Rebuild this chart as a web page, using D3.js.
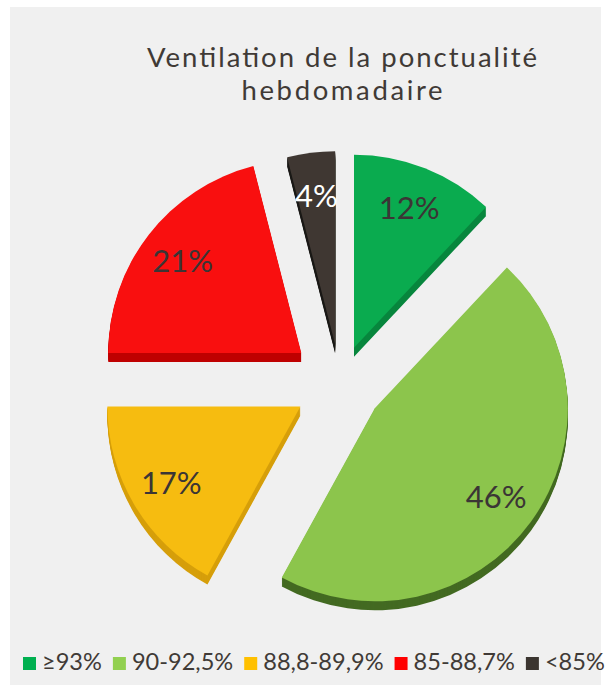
<!DOCTYPE html>
<html>
<head>
<meta charset="utf-8">
<script src="https://cdn.jsdelivr.net/npm/d3@7"></script>
<style>
  html, body { margin: 0; padding: 0; background: #ffffff; }
  svg { display: block; }
  text { font-family: Lato, "Noto Sans", sans-serif; }
</style>
</head>
<body>
<div id="chart"></div>
<script>
// ---- data ----
const titleLines = ["Ventilation de la ponctualité", "hebdomadaire"];
const categories = ["≥93%", "90-92,5%", "88,8-89,9%", "85-88,7%", "<85%"];
const values = [12, 46, 17, 21, 4];
const valueLabels = ["12%", "46%", "17%", "21%", "4%"];

// ---- styles ----
const faceColors = ["#0aab4f", "#8cc54c", "#f6bc10", "#f90f0f", "#3f3732"];
const sideColors = ["#07863d", "#436a22", "#d69f0b", "#bf0000", "#1b1917"];
const legendColors = ["#00b050", "#92d050", "#ffc000", "#ff0000", "#3b3530"];
const labelColors = ["#3b3535", "#3b3535", "#3b3535", "#3b3535", "#ffffff"];
const explodeDist = [38, 43, 46, 49, 39]; // per-slice explosion (layout)
const textColor = "#403a36";

const W = 607, H = 685;
const svg = d3.select("#chart").append("svg").attr("width", W).attr("height", H);

svg.append("rect").attr("x", 0).attr("y", 0).attr("width", W).attr("height", H).attr("fill", "#ffffff");
svg.append("rect").attr("x", 10).attr("y", 7).attr("width", 591).attr("height", H - 7).attr("fill", "#f0f0f0");

// ---- title ----
const titleG = svg.append("g");
const titleWidths = [390, 201];
titleLines.forEach((line, i) => {
  titleG.append("text")
    .attr("x", 342 - titleWidths[i] / 2)
    .attr("y", 67 + i * 33)
    .attr("font-size", 27.5)
    .attr("fill", textColor)
    .attr("textLength", titleWidths[i])
    .attr("lengthAdjust", "spacing")
    .text(line);
});

// ---- pie ----
const cx = 340, cy = 383, R = 193, depth = 9, labelR = 150;
const data = categories.map((c, i) => ({ cat: c, value: values[i], i }));
const pie = d3.pie().sort(null).value(d => d.value).startAngle(0).endAngle(2 * Math.PI);
const arc = d3.arc().innerRadius(0).outerRadius(R);
const labelArc = d3.arc().innerRadius(labelR).outerRadius(labelR);

const arcs = pie(data);
const sliceG = svg.append("g");
arcs.forEach(a => {
  const mid = (a.startAngle + a.endAngle) / 2;
  const d = explodeDist[a.data.i];
  const ox = Math.sin(mid) * d, oy = -Math.cos(mid) * d;
  const g = sliceG.append("g").attr("transform", `translate(${cx + ox},${cy + oy})`);
  for (let k = depth; k >= 1; k--) {
    g.append("path").attr("d", arc(a)).attr("transform", `translate(0,${k})`)
      .attr("fill", sideColors[a.data.i]);
  }
  g.append("path").attr("d", arc(a)).attr("fill", faceColors[a.data.i]);
  const [lx, ly] = labelArc.centroid(a);
  g.append("text")
    .attr("x", lx).attr("y", ly)
    .attr("dy", "0.36em")
    .attr("text-anchor", "middle")
    .attr("font-size", 31)
    .attr("fill", labelColors[a.data.i])
    .text(valueLabels[a.data.i]);
});

// ---- legend ----
const legendG = svg.append("g");
const sq = 13, gapSqText = 6, gapItem = 11;
const probe = legendG.selectAll("text.p").data(categories).enter().append("text")
  .attr("class", "p").attr("font-size", 23).text(d => d);
let sumW = 0;
probe.each(function () { sumW += this.getComputedTextLength(); });
probe.remove();
const legendSize = 23 * 443 / sumW;
let x = 23;
const baseY = 670;
categories.forEach((c, i) => {
  legendG.append("rect").attr("x", x).attr("y", 657).attr("width", sq).attr("height", sq)
    .attr("fill", legendColors[i]);
  x += sq + gapSqText;
  const t = legendG.append("text").attr("x", x).attr("y", baseY)
    .attr("font-size", legendSize).attr("fill", textColor).text(c);
  x += t.node().getComputedTextLength() + gapItem;
});
</script>
</body>
</html>
